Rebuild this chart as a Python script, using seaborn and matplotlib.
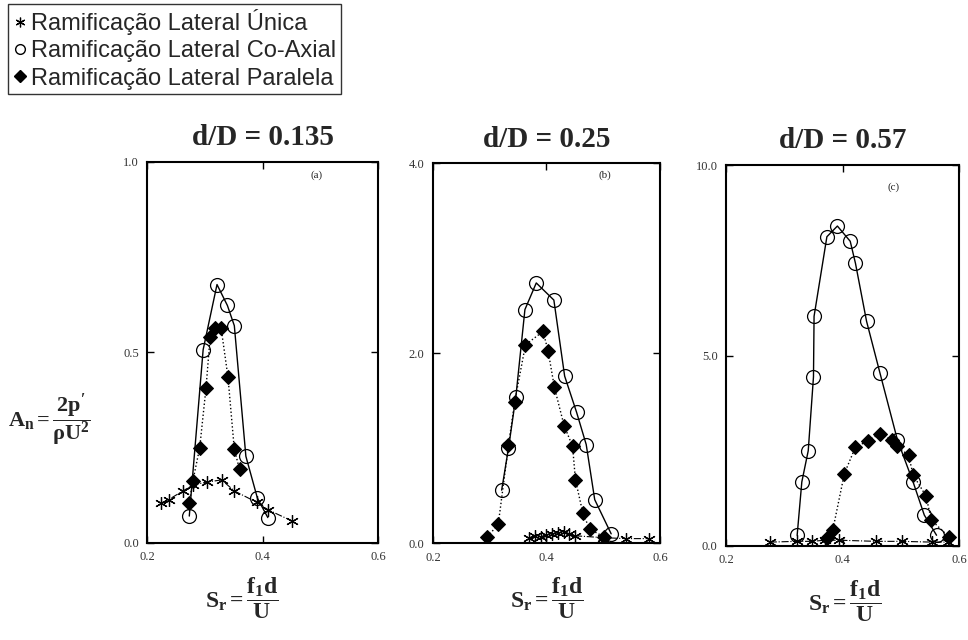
import numpy as np
import pandas as pd
import matplotlib
matplotlib.use("Agg")
import matplotlib.pyplot as plt
import seaborn as sns
from matplotlib.lines import Line2D

sns.set_style("ticks")
plt.rcParams['font.family'] = ['Liberation Serif', 'DejaVu Serif']
plt.rcParams['mathtext.fontset'] = 'custom'
plt.rcParams['mathtext.rm'] = 'Liberation Serif'
plt.rcParams['mathtext.bf'] = 'Liberation Serif:bold'
plt.rcParams['mathtext.it'] = 'Liberation Serif:italic'

# painel (a) d/D = 0.135
a_coax_x = [0.273, 0.297, 0.321, 0.339, 0.351, 0.371, 0.391, 0.409]
a_coax_y = [0.070, 0.507, 0.678, 0.623, 0.570, 0.227, 0.117, 0.066]
a_par_x = [0.273, 0.279, 0.291, 0.302, 0.309, 0.318, 0.328, 0.340, 0.351, 0.360]
a_par_y = [0.104, 0.161, 0.249, 0.407, 0.539, 0.565, 0.565, 0.435, 0.245, 0.193]
a_uni_x = [0.224, 0.237, 0.262, 0.280, 0.303, 0.329, 0.351, 0.390, 0.410, 0.451]
a_uni_y = [0.104, 0.113, 0.136, 0.152, 0.159, 0.165, 0.136, 0.106, 0.086, 0.057]

# painel (b) d/D = 0.25
b_coax_x = [0.321, 0.333, 0.346, 0.362, 0.382, 0.413, 0.432, 0.453, 0.470, 0.485, 0.514]
b_coax_y = [0.56, 1.00, 1.54, 2.46, 2.74, 2.56, 1.76, 1.38, 1.04, 0.46, 0.10]
b_par_x = [0.296, 0.315, 0.333, 0.344, 0.363, 0.394, 0.403, 0.414, 0.431, 0.446,
           0.451, 0.464, 0.476, 0.501]
b_par_y = [0.07, 0.20, 1.03, 1.49, 2.09, 2.23, 2.02, 1.64, 1.24, 1.02,
           0.67, 0.32, 0.15, 0.07]
b_uni_x = [0.37, 0.38, 0.39, 0.40, 0.41, 0.42, 0.43, 0.44, 0.45, 0.50, 0.54, 0.58]
b_uni_y = [0.06, 0.08, 0.07, 0.09, 0.10, 0.11, 0.12, 0.10, 0.08, 0.06, 0.05, 0.05]

# painel (c) d/D = 0.57
c_coax_x = [0.322, 0.330, 0.341, 0.350, 0.351, 0.373, 0.391, 0.413, 0.422, 0.441,
            0.464, 0.494, 0.521, 0.540, 0.561]
c_coax_y = [0.28, 1.68, 2.50, 4.44, 6.03, 8.12, 8.40, 8.00, 7.42, 5.90,
            4.54, 2.78, 1.67, 0.81, 0.28]
c_par_x = [0.374, 0.383, 0.403, 0.422, 0.443, 0.464, 0.484, 0.493, 0.513, 0.521,
           0.543, 0.552, 0.582]
c_par_y = [0.21, 0.41, 1.90, 2.60, 2.75, 2.95, 2.78, 2.62, 2.38, 1.86,
           1.31, 0.68, 0.24]
c_uni_x = [0.275, 0.321, 0.347, 0.370, 0.393, 0.458, 0.501, 0.553, 0.580]
c_uni_y = [0.10, 0.12, 0.12, 0.15, 0.15, 0.12, 0.12, 0.10, 0.10]

titulos = ["d/D = 0.135", "d/D = 0.25", "d/D = 0.57"]
letras = ["(a)", "(b)", "(c)"]
y_max = [1.0, 4.0, 10.0]
y_ticks = [[0.0, 0.5, 1.0], [0.0, 2.0, 4.0], [0.0, 5.0, 10.0]]
x_ticks = [0.2, 0.4, 0.6]

paineis = [
    (a_uni_x, a_uni_y, a_coax_x, a_coax_y, a_par_x, a_par_y),
    (b_uni_x, b_uni_y, b_coax_x, b_coax_y, b_par_x, b_par_y),
    (c_uni_x, c_uni_y, c_coax_x, c_coax_y, c_par_x, c_par_y),
]
posicoes = [[0.152, 0.152, 0.2386, 0.595],
            [0.4473, 0.151, 0.2345, 0.594],
            [0.750, 0.147, 0.241, 0.595]]
pos_letra = [(0.735, 0.965), (0.758, 0.968), (0.717, 0.941)]
pos_xlabel = [0.41, 0.50, 0.51]

asterisco = (6, 2, 0)

fig = plt.figure(figsize=(9.68, 6.4), dpi=100)

for i, (ux, uy, cx, cy, px, py) in enumerate(paineis):
    ax = fig.add_axes(posicoes[i])
    sns.lineplot(x=ux, y=uy, ax=ax, sort=False, estimator=None, color='black',
                 lw=0.8, linestyle='-.', marker=asterisco, markersize=9,
                 markeredgewidth=0.9, markeredgecolor='black')
    sns.lineplot(x=cx, y=cy, ax=ax, sort=False, estimator=None, color='black',
                 lw=1.0, linestyle='-', marker='o', markersize=10,
                 markerfacecolor='none', markeredgecolor='black', markeredgewidth=0.9)
    sns.lineplot(x=px, y=py, ax=ax, sort=False, estimator=None, color='black',
                 lw=1.0, linestyle=':', marker='D', markersize=7,
                 markerfacecolor='black', markeredgecolor='black')
    ax.set_xlim(0.2, 0.6)
    ax.set_ylim(0, y_max[i])
    ax.set_xticks(x_ticks)
    ax.set_yticks(y_ticks[i])
    ax.set_xticklabels(["%.1f" % v for v in x_ticks])
    ax.set_yticklabels(["%.1f" % v for v in y_ticks[i]])
    ax.tick_params(direction='in', top=True, right=True, length=5, width=1,
                   labelsize=9, pad=6, colors='black', labelcolor='#333333')
    for s in ax.spines.values():
        s.set_linewidth(1.5)
        s.set_color('black')
    ax.set_title(titulos[i], fontsize=21, fontweight='bold', pad=12)
    ax.text(pos_letra[i][0], pos_letra[i][1], letras[i], transform=ax.transAxes,
            fontsize=8, ha='center', va='center')
    ax.set_xlabel(r"$\mathbf{S_r = \dfrac{f_1 d}{U}}$", fontsize=17)
    ax.xaxis.set_label_coords(pos_xlabel[i], -0.085, transform=ax.transAxes)
    ax.set_ylabel("")

fig.text(0.008, 0.345, r"$\mathbf{A_n = \dfrac{2p'}{\rho U^2}}$", fontsize=16,
         ha='left', va='center')

handles = [
    Line2D([], [], ls='none', marker=asterisco, markersize=7, color='black',
           markeredgewidth=0.9),
    Line2D([], [], ls='none', marker='o', markersize=7, markerfacecolor='none',
           markeredgecolor='black'),
    Line2D([], [], ls='none', marker='D', markersize=6, color='black'),
]
nomes = ["Ramificação Lateral Única", "Ramificação Lateral Co-Axial",
         "Ramificação Lateral Paralela"]
leg = fig.legend(handles, nomes, loc='upper left', bbox_to_anchor=(0.008, 0.993),
                 frameon=True, fancybox=False, handlelength=0.6, handletextpad=0.2,
                 borderpad=0.2, labelspacing=0.22, borderaxespad=0,
                 prop={'family': 'Liberation Sans', 'size': 17})
leg.get_frame().set_edgecolor('black')
leg.get_frame().set_linewidth(1.0)

fig.savefig("out.png", dpi=100)
